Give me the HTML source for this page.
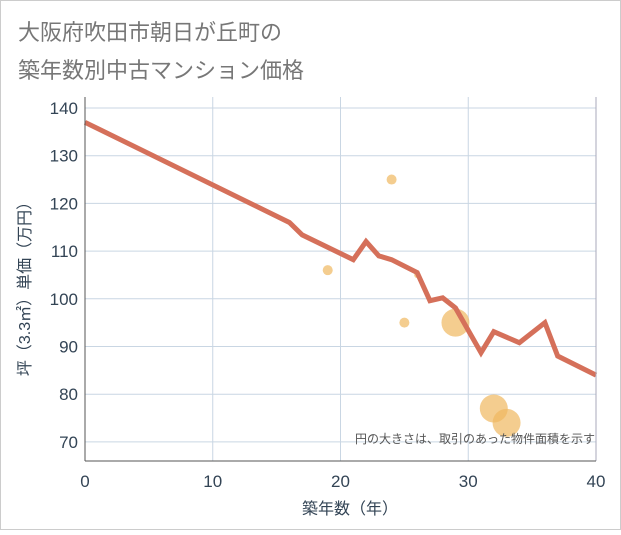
<!DOCTYPE html>
<html><head><meta charset="utf-8"><style>
body{margin:0;background:#fff;font-family:"Liberation Sans","Noto Sans CJK JP",sans-serif}
</style></head><body>
<svg width="621" height="530" xmlns="http://www.w3.org/2000/svg" font-family="Liberation Sans, Noto Sans CJK JP, sans-serif">
<rect x="0.5" y="0.5" width="620" height="529" fill="#fff" stroke="#ccc"/>
<text x="18" y="40" font-size="22" fill="#777">大阪府吹田市朝日が丘町の</text>
<text x="18" y="78" font-size="22" fill="#777">築年数別中古マンション価格</text>
<g id="grid"></g>
<g id="bubbles"></g>
<g id="lineg"></g>
<g id="axes"></g>
<text x="595" y="443" font-size="12" fill="#555" text-anchor="end">円の大きさは、取引のあった物件面積を示す</text>
<text x="350" y="514" font-size="16" fill="#345" text-anchor="middle">築年数（年）</text>
<text transform="translate(30,285) rotate(-90)" font-size="16" fill="#345" text-anchor="middle">坪（3.3㎡）単価（万円）</text>
</svg>
<script>
const xTicks=[0,10,20,30,40];
const yTicks=[70,80,90,100,110,120,130,140];
const lineYears=[0,16,17,21,22,23,24,26,27,28,29,31,32,34,36,37,40];
const linePrices=[137,116,113.4,108.2,112,109,108.2,105.5,99.6,100.2,98.1,88.7,93.1,90.8,95,88,84];
const bubbleYears=[19,24,25,26,29,32,33];
const bubblePrices=[106,125,95,105,95,77,74];
const bubbleSizes=[5,5,5,3,14,14,14];
const NS="http://www.w3.org/2000/svg";
const X0=85,X1=596,YT=97,YB=461;
const sx=v=>X0+(v/40)*(X1-X0);
const sy=v=>108+(140-v)*4.77;
function mk(t,a,p){const e=document.createElementNS(NS,t);for(const k in a)e.setAttribute(k,a[k]);p.appendChild(e);return e;}
const grid=document.getElementById('grid'),axes=document.getElementById('axes');
xTicks.forEach(t=>{
 const l=mk('line',{x1:sx(t),x2:sx(t),y1:YT,y2:YB,stroke:'#c9d6e3','stroke-width':1},grid);
 
 
 const tx=mk('text',{x:sx(t),y:487,'font-size':17,fill:'#345','text-anchor':'middle'},axes);tx.textContent=t;
 
 
});
yTicks.forEach(t=>{
 const l=mk('line',{x1:X0,x2:X1,y1:sy(t),y2:sy(t),stroke:'#c9d6e3','stroke-width':1},grid);
 
 
 const tx=mk('text',{x:78,y:sy(t)+6,'font-size':17,fill:'#345','text-anchor':'end'},axes);tx.textContent=t;
 
 
});
const rx=mk('line',{x1:X1,x2:X1,y1:YT,y2:YB,stroke:'#aab','stroke-width':1},axes);


const bx=mk('line',{x1:X0,x2:X1,y1:YB,y2:YB,stroke:'#555','stroke-width':1},axes);


const lx=mk('line',{x1:X0,x2:X0,y1:YT,y2:YB,stroke:'#555','stroke-width':1},axes);


const bg=document.getElementById('bubbles');
bubbleYears.forEach((y,i)=>{
 const c=mk('circle',{cx:sx(y),cy:sy(bubblePrices[i]),r:bubbleSizes[i],fill:'#f0b860','fill-opacity':0.7},bg);
 
 
});
const pts=lineYears.map((y,i)=>sx(y)+','+sy(linePrices[i])).join(' ');
const pl=mk('polyline',{points:pts,fill:'none',stroke:'#d5705a','stroke-width':5,'stroke-linejoin':'miter'},document.getElementById('lineg'));


</script>
</body></html>
